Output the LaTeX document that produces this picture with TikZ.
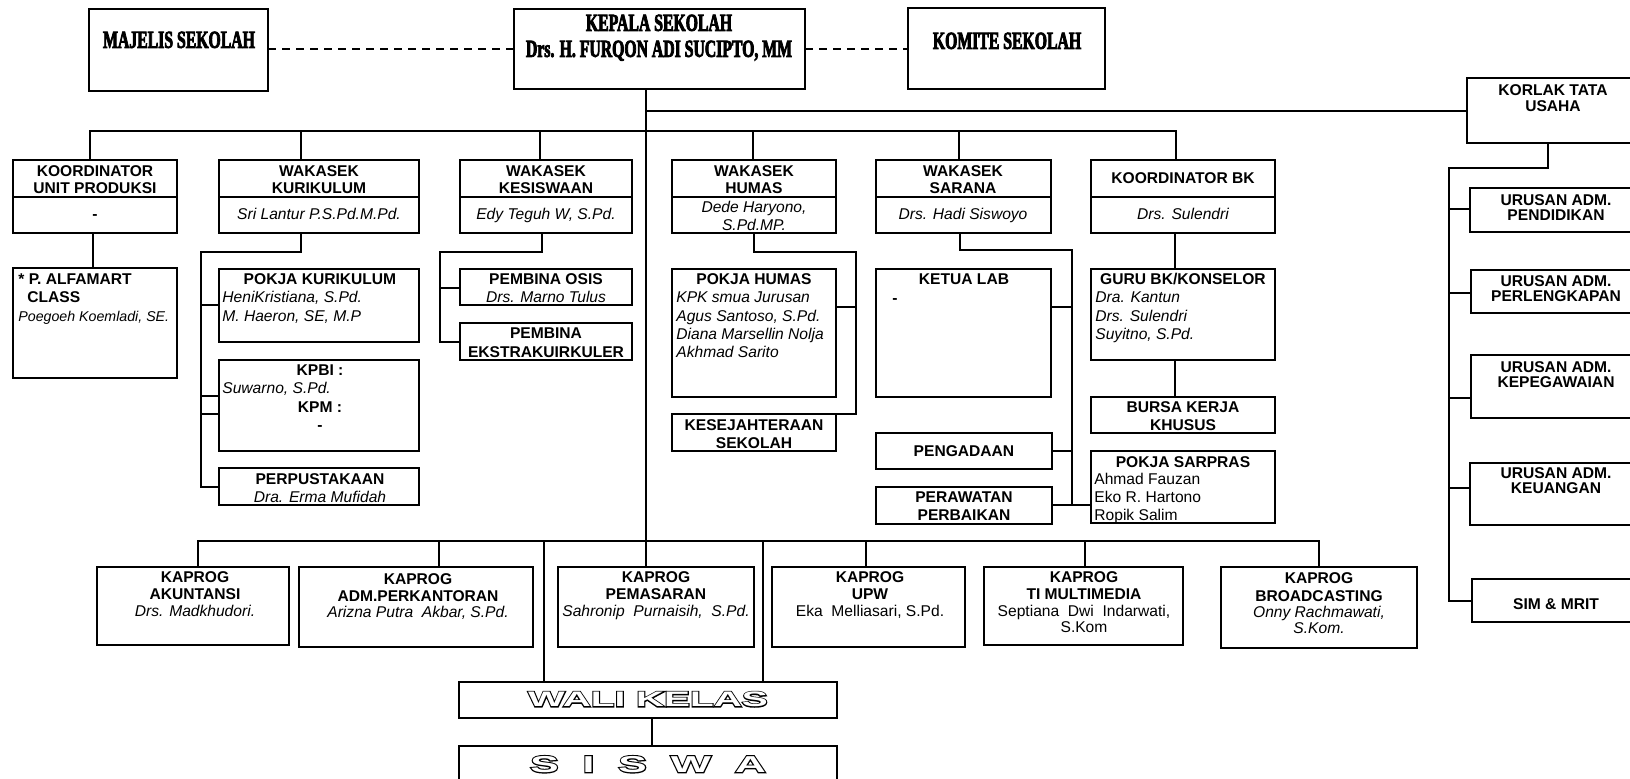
\documentclass[tikz,border=0pt]{standalone}
\usepackage{fontspec}
\setmainfont{Liberation Sans}
\newfontfamily\headfont[FakeStretch=0.64,FakeBold=3]{Liberation Serif}
\newfontfamily\olfontB[FakeStretch=1.85,FakeBold=10]{Liberation Sans}
\newfontfamily\olfontW[FakeStretch=1.85]{Liberation Sans}
\usetikzlibrary{fit}
\newcounter{tn}
\newcommand\tx[3][lab]{\stepcounter{tn}\node[#1] (tx\arabic{tn}) at (#2) {#3};}
\newcommand\bx[3]{\node[box,fit={(#2)(#3)}] (#1) {};}
\begin{document}
\begin{tikzpicture}[x=0.5pt,y=-0.5pt,
  box/.style={draw,line width=1pt,inner sep=0pt,outer sep=0pt},
  ln/.style={line width=0.9pt},
  dsh/.style={line width=0.9pt,dash pattern=on 4pt off 3pt},
  txt/.style={inner sep=0pt,text height=5.6pt,text depth=0pt},
  lab/.style={txt,font=\fontsize{7.8}{9}\selectfont\bfseries},
  labl/.style={lab,anchor=west},
  nm/.style={txt,font=\fontsize{7.8}{9}\selectfont\itshape},
  nml/.style={nm,anchor=west},
  rg/.style={txt,font=\fontsize{7.8}{9}\selectfont},
  rgl/.style={rg,anchor=west},
  hd/.style={inner sep=0pt,text height=7.9pt,text depth=0pt,font=\headfont\bfseries\fontsize{12.3}{14}\selectfont},
  olb/.style={inner sep=0pt,text height=7.5pt,text depth=0pt,font=\olfontB\bfseries\fontsize{10.5}{12}\selectfont},
  olw/.style={olb,font=\olfontW\bfseries\fontsize{10.5}{12}\selectfont,text=white},
  olbs/.style={inner sep=0pt,text height=8.2pt,text depth=0pt,font=\olfontB\bfseries\fontsize{11.5}{13}\selectfont},
  olws/.style={olbs,font=\olfontW\bfseries\fontsize{11.5}{13}\selectfont,text=white},
]
\useasboundingbox[fill=white] (0,0) rectangle (1630,779);

% ---------- top ----------
\bx{majelis}{89,9}{268,91}
\bx{kepala}{514,9}{805,89}
\bx{komite}{908,8}{1105,89}
\bx{korlak}{1467,78}{1640,143}
\tx[hd]{179,40}{MAJELIS SEKOLAH}
\tx[hd]{659,23}{KEPALA SEKOLAH}
\tx[hd]{659,49}{Drs. H. FURQON ADI SUCIPTO, MM}
\tx[hd]{1007,41}{KOMITE SEKOLAH}
\tx{1553,90}{KORLAK TATA}
\tx{1553,106}{USAHA}

% ---------- row 1 ----------
\bx{kupH}{13,160}{177,197} \bx{kupN}{13,197}{177,233}
\bx{kurH}{219,160}{419,197} \bx{kurN}{219,197}{419,233}
\bx{kesH}{460,160}{632,197} \bx{kesN}{460,197}{632,233}
\bx{humH}{672,160}{836,197} \bx{humN}{672,197}{836,233}
\bx{sarH}{876,160}{1051,197} \bx{sarN}{876,197}{1051,233}
\bx{bkH}{1091,160}{1275,197} \bx{bkN}{1091,197}{1275,233}

\tx{95,171}{KOORDINATOR} \tx{95,188}{UNIT PRODUKSI} \tx{95,214}{-}
\tx{319,171}{WAKASEK} \tx{319,188}{KURIKULUM} \tx[nm]{319,214}{Sri Lantur P.S.Pd.M.Pd.}
\tx{546,171}{WAKASEK} \tx{546,188}{KESISWAAN} \tx[nm]{546,214}{Edy Teguh W, S.Pd.}
\tx{754,171}{WAKASEK} \tx{754,188}{HUMAS} \tx[nm]{754,207}{Dede Haryono,} \tx[nm]{754,225}{S.Pd.MP.}
\tx{963,171}{WAKASEK} \tx{963,188}{SARANA} \tx[nm]{963,214}{Drs. Hadi Siswoyo}
\tx{1183,178}{KOORDINATOR BK} \tx[nm]{1183,214}{Drs. Sulendri}

% ---------- row 2 ----------
\bx{alf}{13,268}{177,378}
\bx{pokjakur}{219,269}{419,342}
\bx{kpbi}{219,360}{419,451}
\bx{perpus}{219,468}{419,505}
\bx{osis}{460,269}{632,305}
\bx{ekstra}{460,323}{632,360}
\bx{pokjahum}{672,269}{836,397}
\bx{kesejah}{672,414}{836,451}
\bx{ketlab}{876,269}{1051,397}
\bx{pengadaan}{876,433}{1052,469}
\bx{perawatan}{876,487}{1052,524}
\bx{guru}{1091,269}{1275,360}
\bx{bursa}{1091,397}{1275,433}
\bx{sarpras}{1091,451}{1275,523}

\tx[labl]{18,279}{* P. ALFAMART} \tx[labl]{27,297}{CLASS}
\tx[nml,font=\fontsize{7.1}{9}\selectfont\itshape]{18,316}{Poegoeh Koemladi, SE.}
\tx{320,279}{POKJA KURIKULUM} \tx[nml]{222,297}{HeniKristiana, S.Pd.} \tx[nml]{222,316}{M. Haeron, SE, M.P}
\tx{320,370}{KPBI :} \tx[nml]{222,388}{Suwarno, S.Pd.} \tx{320,407}{KPM :} \tx{320,425}{-}
\tx{320,479}{PERPUSTAKAAN} \tx[nm]{320,497}{Dra. Erma Mufidah}
\tx{546,279}{PEMBINA OSIS} \tx[nm]{546,297}{Drs. Marno Tulus}
\tx{546,333}{PEMBINA} \tx{546,352}{EKSTRAKUIRKULER}
\tx{754,279}{POKJA HUMAS}
\tx[nml]{676,297}{KPK smua Jurusan} \tx[nml]{676,316}{Agus Santoso, S.Pd.}
\tx[nml]{676,334}{Diana Marsellin Nolja} \tx[nml]{676,352}{Akhmad Sarito}
\tx{754,425}{KESEJAHTERAAN} \tx{754,443}{SEKOLAH}
\tx{964,279}{KETUA LAB} \tx{895,298}{-}
\tx{964,451}{PENGADAAN}
\tx{964,497}{PERAWATAN} \tx{964,515}{PERBAIKAN}
\tx{1183,279}{GURU BK/KONSELOR}
\tx[nml]{1095,297}{Dra. Kantun} \tx[nml]{1095,316}{Drs. Sulendri} \tx[nml]{1095,334}{Suyitno, S.Pd.}
\tx{1183,407}{BURSA KERJA} \tx{1183,425}{KHUSUS}
\tx{1183,462}{POKJA SARPRAS}
\tx[rgl]{1094,479}{Ahmad Fauzan} \tx[rgl]{1094,497}{Eko R. Hartono} \tx[rgl]{1094,515}{Ropik Salim}

% ---------- right column ----------
\bx{pend}{1470,188}{1640,232}
\bx{perl}{1471,270}{1640,313}
\bx{kepeg}{1471,355}{1640,418}
\bx{keu}{1470,463}{1640,525}
\bx{sim}{1472,579}{1640,622}
\tx{1556,200}{URUSAN ADM.} \tx{1556,215}{PENDIDIKAN}
\tx{1556,281}{URUSAN ADM.} \tx{1556,296}{PERLENGKAPAN}
\tx{1556,367}{URUSAN ADM.} \tx{1556,382}{KEPEGAWAIAN}
\tx{1556,473}{URUSAN ADM.} \tx{1556,488}{KEUANGAN}
\tx{1556,604}{SIM \& MRIT}

% ---------- kaprog ----------
\bx{aku}{97,567}{289,645}
\bx{adm}{299,567}{533,647}
\bx{pem}{558,567}{754,647}
\bx{upw}{772,567}{965,647}
\bx{ti}{984,567}{1183,645}
\bx{brd}{1221,567}{1417,648}
\tx{195,577}{KAPROG} \tx{195,594}{AKUNTANSI} \tx[nm]{195,611}{Drs. Madkhudori.}
\tx{418,579}{KAPROG} \tx{418,596}{ADM.PERKANTORAN} \tx[nm]{418,612}{Arizna Putra\ \ Akbar, S.Pd.}
\tx{656,577}{KAPROG} \tx{656,594}{PEMASARAN} \tx[nm]{656,611}{Sahronip\ \ Purnaisih,\ \ S.Pd.}
\tx{870,577}{KAPROG} \tx{870,594}{UPW} \tx[rg]{870,611}{Eka\ \ Melliasari, S.Pd.}
\tx{1084,577}{KAPROG} \tx{1084,594}{TI MULTIMEDIA} \tx[rg]{1084,611}{Septiana\ \ Dwi\ \ Indarwati,} \tx[rg]{1084,627}{S.Kom}
\tx{1319,578}{KAPROG} \tx{1319,596}{BROADCASTING} \tx[nm]{1319,612}{Onny Rachmawati,} \tx[nm]{1319,628}{S.Kom.}

\bx{wali}{459,682}{837,718}
\bx{siswa}{459,746}{837,810}
\tx[olb]{648,699}{WALI KELAS}
\tx[olw]{648,699}{WALI KELAS}
\tx[olbs]{648,764}{S\hspace{12pt}I\hspace{12pt}S\hspace{12pt}W\hspace{12pt}A}
\tx[olws]{648,764}{S\hspace{12pt}I\hspace{12pt}S\hspace{12pt}W\hspace{12pt}A}

% ---------- connectors ----------
\draw[dsh] (majelis.east |- 0,49) -- (kepala.west |- 0,49);
\draw[dsh] (kepala.east |- 0,49) -- (komite.west |- 0,49);
\draw[ln] (kepala.south -| 646,0) -- (pem.north -| 646,0);
\draw[ln] (646,111) -- (korlak.west |- 0,111);
% row 1 bus
\draw[ln] (kupH.north -| 90,0) -- (90,131) -| (bkH.north -| 1176,0);
\draw[ln] (301,131) -- (kurH.north -| 301,0);
\draw[ln] (540,131) -- (kesH.north -| 540,0);
\draw[ln] (753,131) -- (humH.north -| 753,0);
\draw[ln] (959,131) -- (sarH.north -| 959,0);
% unit produksi
\draw[ln] (kupN.south -| 93,0) -- (alf.north -| 93,0);
% kurikulum
\draw[ln] (kurN.south -| 301,0) -- (301,252) -| (201,487) -- (perpus.west |- 0,487);
\draw[ln] (201,305) -- (pokjakur.west |- 0,305);
\draw[ln] (201,396) -- (kpbi.west |- 0,396);
\draw[ln] (201,414) -- (kpbi.west |- 0,414);
% kesiswaan
\draw[ln] (kesN.south -| 542,0) -- (542,252) -| (440,342) -- (ekstra.west |- 0,342);
\draw[ln] (440,288) -- (osis.west |- 0,288);
% humas
\draw[ln] (humN.south -| 754,0) -- (754,252) -| (856,414) -- (kesejah.north east);
\draw[ln] (856,307) -- (pokjahum.east |- 0,307);
% sarana
\draw[ln] (sarN.south -| 960,0) -- (960,250) -| (1072,505) -- (sarpras.west |- 0,505);
\draw[ln] (perawatan.east |- 0,505) -- (1072,505);
\draw[ln] (1072,307) -- (ketlab.east |- 0,307);
\draw[ln] (1072,451) -- (pengadaan.east |- 0,451);
% bk
\draw[ln] (bkN.south -| 1175,0) -- (guru.north -| 1175,0);
\draw[ln] (guru.south -| 1175,0) -- (bursa.north -| 1175,0);
% korlak
\draw[ln] (korlak.south -| 1548,0) -- (1548,168) -| (1449,601) -- (sim.west |- 0,601);
\draw[ln] (1449,209) -- (pend.west |- 0,209);
\draw[ln] (1449,293) -- (perl.west |- 0,293);
\draw[ln] (1449,398) -- (kepeg.west |- 0,398);
\draw[ln] (1449,488) -- (keu.west |- 0,488);
% kaprog bus
\draw[ln] (aku.north -| 198,0) -- (198,541) -| (brd.north -| 1319,0);
\draw[ln] (439,541) -- (adm.north -| 439,0);
\draw[ln] (544,541) -- (wali.north -| 544,0);
\draw[ln] (763,541) -- (wali.north -| 763,0);
\draw[ln] (866,541) -- (upw.north -| 866,0);
\draw[ln] (1085,541) -- (ti.north -| 1085,0);
\draw[ln] (wali.south -| 652,0) -- (siswa.north -| 652,0);
\end{tikzpicture}
\end{document}
